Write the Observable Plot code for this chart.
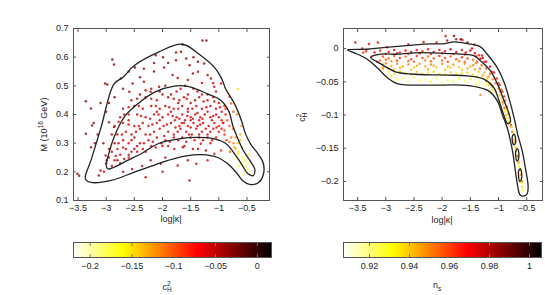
<!DOCTYPE html>
<html><head><meta charset="utf-8">
<script src="https://cdn.jsdelivr.net/npm/d3@7"></script>
<script src="https://cdn.jsdelivr.net/npm/@observablehq/plot@0.6"></script>
<style>
body{margin:0;background:#fff;}
#root{position:relative;width:545px;height:295px;overflow:hidden;font-family:"Liberation Sans",Arial,sans-serif;color:#222;}
#root svg{position:absolute;overflow:visible;}
.lbl{position:absolute;font-size:9px;white-space:nowrap;line-height:1;}
.stk{display:inline-block;vertical-align:middle;font-size:6.5px;line-height:0.95;text-align:left;}
.stk span{display:block;}
</style></head><body><div id="root"></div>
<script>
// ---------- data ----------
const leftXTicks = [-3.5, -3, -2.5, -2, -1.5, -1, -0.5];
const leftYTicks = [0.1, 0.2, 0.3, 0.4, 0.5, 0.6, 0.7];
const rightXTicks = [-3.5, -3, -2.5, -2, -1.5, -1, -0.5];
const rightYTicks = [0, -0.05, -0.1, -0.15, -0.2];
const cHTicks = [-0.2, -0.15, -0.1, -0.05, 0];
const nsTicks = [0.92, 0.94, 0.96, 0.98, 1];
const cHRange = [-0.22, 0.017];
const nsRange = [0.907, 1.006];
const hotColors = ["#ffffff", "#ffff00", "#ff0000", "#000000"];

// left panel: [log|kappa|, M, c_H^2]
const leftPoints = [
[-1.29,0.658,-0.03],[-1.22,0.658,-0.025],[-1.64,0.644,-0.03],[-1.67,0.619,-0.035],[-1.76,0.616,-0.03],[-1.76,0.589,-0.04],[-1.58,0.595,-0.035],[-1.52,0.572,-0.04],[-1.37,0.584,-0.03],[-1.26,0.578,-0.035],[-1.37,0.549,-0.045],[-1.46,0.543,-0.04],[-1.2,0.538,-0.04],[-1.14,0.526,-0.05],[-0.96,0.508,-0.06],[-1.08,0.497,-0.05],[-0.81,0.462,-0.09],[-0.66,0.49,-0.15],[-0.78,0.438,-0.1],[-1.82,0.538,-0.04],[-1.73,0.527,-0.035],
[-2.89,0.592,-0.025],[-2.86,0.574,-0.03],[-3.02,0.508,-0.03],[-2.98,0.505,-0.035],[-3.36,0.446,-0.03],[-3.27,0.421,-0.035],[-2.49,0.564,-0.03],[-2.33,0.56,-0.035],[-2.15,0.55,-0.03],[-2.12,0.607,-0.03],[-1.99,0.6,-0.035],[-1.97,0.564,-0.04],[-2.74,0.526,-0.035],[-2.53,0.508,-0.04],[-2.59,0.479,-0.045],[-2.33,0.514,-0.04],[-2.21,0.479,-0.045],[-2.06,0.497,-0.04],[-1.9,0.58,-0.03],[-2.4,0.53,-0.035],[-2.7,0.49,-0.04],[-2.85,0.46,-0.035],[-2.95,0.44,-0.04],[-1.55,0.52,-0.045],[-1.3,0.51,-0.05],[-1.05,0.48,-0.055],
[-2.15,0.58,-0.03],[-2.6,0.55,-0.035],[-1.45,0.6,-0.035],[-1.1,0.51,-0.05],[-3.1,0.44,-0.03],[-3.2,0.3,-0.035],[-2.0,0.2,-0.045],[-1.2,0.24,-0.06],[-1.55,0.24,-0.05],
[-3.36,0.333,-0.03],[-3.25,0.362,-0.035],[-3.22,0.37,-0.04],[-3.27,0.286,-0.04],[-3.51,0.193,-0.03],[-3.48,0.186,-0.035],[-3.10,0.205,-0.045],[-3.13,0.187,-0.04],[-3.04,0.2,-0.05],[-3.01,0.257,-0.05],[-2.99,0.24,-0.045],[-2.95,0.373,-0.04],[-2.86,0.356,-0.045],[-2.9,0.33,-0.05],[-3.05,0.3,-0.04],[-3.15,0.33,-0.035],[-3.0,0.41,-0.035],
[-2.30,0.181,-0.05],[-2.54,0.21,-0.045],[-2.03,0.228,-0.05],[-2.21,0.24,-0.045],[-2.36,0.22,-0.05],[-1.52,0.17,-0.04],[-1.40,0.228,-0.05],[-1.73,0.222,-0.045],[-1.64,0.286,-0.05],[-1.61,0.29,-0.055],[-1.46,0.28,-0.05],[-1.37,0.28,-0.045],[-1.32,0.298,-0.055],[-1.23,0.274,-0.05],[-1.08,0.263,-0.06],[-0.96,0.274,-0.08],[-1.79,0.28,-0.05],[-1.95,0.25,-0.045],[-2.7,0.2,-0.045],[-2.8,0.24,-0.05],[-2.6,0.25,-0.055],[-2.45,0.27,-0.05],[-1.15,0.3,-0.06],[-1.9,0.29,-0.055],
[-0.66,0.263,-0.15],[-0.55,0.24,-0.165],[-0.49,0.21,-0.18],[-0.43,0.193,-0.19],[-0.6,0.23,-0.17],[-0.72,0.286,-0.13],[-0.81,0.304,-0.11],[-0.66,0.3,-0.14],[-0.78,0.32,-0.11],[-0.90,0.344,-0.09],[-0.81,0.36,-0.1],[-0.62,0.33,-0.13],[-0.58,0.286,-0.15],[-0.49,0.26,-0.165],[-0.85,0.38,-0.09],[-0.75,0.35,-0.11],[-0.7,0.28,-0.14],[-0.65,0.27,-0.15],[-0.68,0.25,-0.16],[-0.55,0.2,-0.18],[-0.52,0.22,-0.175],[-0.62,0.31,-0.14],[-0.7,0.32,-0.12],[-0.74,0.3,-0.12],[-0.64,0.22,-0.17],[-0.58,0.25,-0.16],[-0.68,0.4,-0.12],[-0.74,0.41,-0.1],[-0.86,0.31,-0.09],[-0.8,0.27,-0.1],[-0.57,0.19,-0.19],[-0.47,0.23,-0.18],[-0.6,0.36,-0.13],[-0.88,0.42,-0.08],[-0.93,0.37,-0.08],
[-2.2,0.49,-0.045],[-1.95,0.5,-0.04],[-1.75,0.48,-0.05],[-1.6,0.5,-0.035],[-1.45,0.49,-0.045],[-1.3,0.47,-0.05],[-1.1,0.46,-0.055],[-2.4,0.47,-0.04],[-1.85,0.47,-0.045],[-1.55,0.47,-0.05],
[-2.55,0.45,-0.05],[-2.3,0.46,-0.045],[-2.1,0.45,-0.05],[-1.9,0.46,-0.04],[-1.7,0.45,-0.055],[-1.5,0.44,-0.045],[-1.35,0.46,-0.05],[-1.2,0.45,-0.055],[-1.0,0.44,-0.06],[-0.9,0.43,-0.07],[-2.0,0.47,-0.04],[-1.62,0.46,-0.05],
[-2.7,0.42,-0.05],[-2.5,0.43,-0.045],[-2.35,0.42,-0.055],[-2.2,0.43,-0.05],[-2.05,0.42,-0.06],[-1.95,0.43,-0.045],[-1.8,0.42,-0.055],[-1.65,0.43,-0.05],[-1.55,0.42,-0.06],[-1.4,0.43,-0.045],[-1.3,0.42,-0.055],[-1.15,0.43,-0.05],[-1.05,0.42,-0.06],[-0.95,0.41,-0.065],[-2.6,0.4,-0.055],[-1.72,0.44,-0.045],
[-2.75,0.39,-0.05],[-2.6,0.38,-0.06],[-2.45,0.4,-0.05],[-2.3,0.39,-0.055],[-2.15,0.4,-0.06],[-2.0,0.39,-0.05],[-1.9,0.4,-0.065],[-1.75,0.39,-0.055],[-1.65,0.4,-0.06],[-1.6,0.38,-0.05],[-1.5,0.39,-0.065],[-1.42,0.4,-0.055],[-1.33,0.39,-0.06],[-1.25,0.4,-0.05],[-1.15,0.39,-0.065],[-1.05,0.4,-0.06],[-0.95,0.38,-0.07],[-0.88,0.4,-0.075],[-2.1,0.41,-0.05],[-1.85,0.41,-0.055],[-1.55,0.41,-0.05],[-1.2,0.41,-0.06],
[-2.85,0.36,-0.05],[-2.7,0.37,-0.055],[-2.5,0.36,-0.06],[-2.35,0.37,-0.05],[-2.25,0.36,-0.065],[-2.1,0.37,-0.055],[-1.98,0.36,-0.06],[-1.85,0.37,-0.05],[-1.7,0.36,-0.065],[-1.62,0.37,-0.055],[-1.55,0.36,-0.06],[-1.45,0.37,-0.05],[-1.38,0.36,-0.065],[-1.28,0.37,-0.06],[-1.18,0.36,-0.055],[-1.08,0.37,-0.065],[-1.0,0.36,-0.07],[-0.92,0.37,-0.075],[-2.05,0.38,-0.05],[-1.78,0.38,-0.06],[-1.5,0.38,-0.055],[-1.35,0.38,-0.06],[-1.12,0.38,-0.06],
[-2.8,0.33,-0.055],[-2.65,0.34,-0.05],[-2.55,0.33,-0.06],[-2.4,0.35,-0.055],[-2.3,0.33,-0.06],[-2.15,0.34,-0.05],[-2.05,0.35,-0.065],[-1.9,0.34,-0.055],[-1.8,0.33,-0.06],[-1.68,0.35,-0.05],[-1.58,0.34,-0.06],[-1.48,0.33,-0.055],[-1.4,0.35,-0.065],[-1.3,0.34,-0.06],[-1.2,0.33,-0.055],[-1.1,0.35,-0.065],[-1.0,0.34,-0.07],[-0.9,0.33,-0.08],
[-2.85,0.3,-0.05],[-2.7,0.31,-0.055],[-2.6,0.3,-0.06],[-2.5,0.32,-0.05],[-2.4,0.3,-0.055],[-2.25,0.31,-0.06],[-2.1,0.32,-0.05],[-1.95,0.31,-0.055],[-1.8,0.32,-0.06],[-1.65,0.32,-0.055],[-1.5,0.32,-0.05],[-1.35,0.32,-0.06],[-1.2,0.32,-0.055],[-1.05,0.32,-0.065],
[-2.9,0.27,-0.05],[-2.8,0.28,-0.055],[-2.75,0.26,-0.05],[-2.65,0.28,-0.06],[-2.55,0.27,-0.055],[-2.45,0.29,-0.05],[-2.35,0.28,-0.06],[-2.2,0.29,-0.055],[-2.0,0.29,-0.05],[-2.85,0.24,-0.055],[-2.75,0.23,-0.05],
[-2.9,0.22,-0.05],[-2.95,0.25,-0.045],[-3.0,0.23,-0.05],
[-2.3,0.485,-0.05],[-2.05,0.48,-0.045],[-1.68,0.49,-0.05],[-1.38,0.48,-0.055],[-1.2,0.47,-0.05],
[-2.45,0.455,-0.05],[-2.2,0.455,-0.055],[-1.8,0.455,-0.05],[-1.57,0.455,-0.06],[-1.42,0.45,-0.05],[-1.27,0.445,-0.06],[-1.08,0.445,-0.06],
[-2.6,0.425,-0.055],[-2.42,0.43,-0.05],[-2.12,0.43,-0.06],[-1.88,0.425,-0.05],[-1.72,0.42,-0.06],[-1.47,0.42,-0.055],[-1.22,0.425,-0.06],[-0.98,0.425,-0.065],
[-2.68,0.4,-0.055],[-2.38,0.395,-0.06],[-2.22,0.385,-0.05],[-2.07,0.4,-0.06],[-1.82,0.395,-0.055],[-1.7,0.385,-0.06],[-1.56,0.395,-0.055],[-1.46,0.385,-0.06],[-1.38,0.405,-0.05],[-1.29,0.385,-0.06],[-1.1,0.395,-0.065],[-1.0,0.39,-0.07],
[-2.78,0.375,-0.05],[-2.6,0.365,-0.055],[-2.42,0.36,-0.06],[-2.18,0.365,-0.055],[-1.92,0.365,-0.06],[-1.77,0.355,-0.055],[-1.66,0.37,-0.06],[-1.5,0.355,-0.055],[-1.33,0.365,-0.065],[-1.23,0.35,-0.06],[-1.04,0.355,-0.065],
[-2.72,0.33,-0.055],[-2.47,0.34,-0.06],[-2.22,0.33,-0.055],[-1.97,0.325,-0.06],[-1.73,0.34,-0.055],[-1.53,0.33,-0.06],[-1.35,0.33,-0.055],[-1.15,0.34,-0.06],[-0.95,0.35,-0.075],
[-2.78,0.3,-0.055],[-2.55,0.31,-0.06],[-2.33,0.3,-0.055],[-2.17,0.305,-0.06],[-2.02,0.3,-0.055],[-1.87,0.305,-0.06],[-1.72,0.31,-0.055],[-1.58,0.305,-0.05],[-1.43,0.31,-0.06],[-1.28,0.31,-0.055],[-1.12,0.31,-0.06],
[-2.95,0.28,-0.05],[-2.7,0.285,-0.055],[-2.5,0.28,-0.05],[-2.3,0.27,-0.06],[-2.12,0.285,-0.055],[-2.6,0.26,-0.05],[-2.83,0.255,-0.055],[-2.68,0.245,-0.05]
];

// right panel: [log|kappa|, c_H^2, n_s]
const rightPoints = [
[-3.54,0.009,0.975],[-3.3,0.007,0.97],[-3.14,0.009,0.975],[-2.98,0.002,0.97],[-2.33,0.01,0.975],[-1.91,0.012,0.98],[-1.94,0.019,0.975],[-1.79,0.019,0.985],[-1.75,0.014,0.98],[-1.64,0.013,0.975],[-1.67,0.014,0.995],[-1.43,0.006,0.98],[-2.6,0.006,0.975],[-2.1,0.009,0.97],[-1.55,0.009,0.985],[-1.47,0.0,0.975],[-1.32,-0.0155,0.98],[-1.29,-0.0105,0.975],
[-3.42,0.0,0.97],[-3.35,-0.004,0.965],[-3.2,-0.006,0.97],[-3.1,-0.003,0.965],[-2.95,-0.005,0.97],[-2.85,-0.002,0.975],[-2.75,-0.006,0.965],[-2.65,-0.003,0.97],[-2.55,-0.005,0.975],[-2.45,-0.002,0.97],[-2.35,-0.004,0.965],[-2.25,-0.001,0.97],[-2.15,-0.005,0.975],[-2.05,-0.002,0.97],[-1.95,-0.004,0.975],[-1.85,-0.001,0.98],[-1.75,-0.005,0.975],[-1.65,-0.002,0.97],[-1.58,-0.006,0.975],[-1.5,-0.003,0.98],[-1.42,-0.007,0.975],[-1.35,-0.01,0.97],[-1.28,-0.014,0.975],[-1.22,-0.02,0.97],[-1.15,-0.027,0.975],[-1.08,-0.036,0.97],[-1.03,-0.045,0.965],[-0.98,-0.055,0.97],[-0.93,-0.065,0.965],[-0.88,-0.078,0.96],
[-3.25,-0.012,0.96],[-3.15,-0.02,0.955],[-3.05,-0.03,0.95],[-3.4,-0.006,0.965],
[-3.05,-0.012,0.96],[-2.95,-0.015,0.955],[-2.85,-0.011,0.96],[-2.75,-0.014,0.965],[-2.65,-0.012,0.955],[-2.55,-0.016,0.96],[-2.45,-0.011,0.965],[-2.35,-0.014,0.96],[-2.25,-0.012,0.955],[-2.15,-0.015,0.96],[-2.05,-0.011,0.965],[-1.95,-0.014,0.96],[-1.85,-0.012,0.955],[-1.75,-0.016,0.96],[-1.65,-0.013,0.965],[-1.55,-0.015,0.96],[-1.45,-0.017,0.955],[-1.38,-0.02,0.96],[-1.3,-0.025,0.955],[-1.22,-0.03,0.96],[-1.15,-0.038,0.955],[-1.1,-0.046,0.95],[-3.1,-0.018,0.955],[-2.9,-0.019,0.95],[-2.6,-0.019,0.955],[-2.3,-0.018,0.95],[-2.0,-0.018,0.955],[-1.7,-0.019,0.95],[-1.4,-0.022,0.95],
[-3.0,-0.022,0.95],[-2.9,-0.026,0.945],[-2.8,-0.023,0.95],[-2.7,-0.027,0.945],[-2.6,-0.024,0.95],[-2.5,-0.028,0.94],[-2.4,-0.023,0.95],[-2.3,-0.027,0.945],[-2.2,-0.024,0.95],[-2.1,-0.028,0.94],[-2.0,-0.023,0.95],[-1.9,-0.027,0.945],[-1.8,-0.024,0.95],[-1.7,-0.028,0.94],[-1.6,-0.023,0.95],[-1.5,-0.027,0.945],[-1.42,-0.031,0.945],[-1.35,-0.035,0.94],[-1.28,-0.04,0.945],[-1.2,-0.045,0.94],[-1.15,-0.052,0.945],[-3.05,-0.028,0.945],[-2.85,-0.031,0.94],[-2.55,-0.032,0.94],[-2.25,-0.031,0.945],[-1.95,-0.032,0.94],[-1.65,-0.032,0.94],
[-2.95,-0.035,0.935],[-2.75,-0.034,0.94],[-2.65,-0.037,0.935],[-2.45,-0.035,0.94],[-2.35,-0.038,0.935],[-2.15,-0.035,0.94],[-2.05,-0.038,0.935],[-1.85,-0.036,0.94],[-1.75,-0.038,0.935],[-1.55,-0.036,0.94],[-1.45,-0.039,0.935],[-1.3,-0.044,0.935],[-1.22,-0.05,0.935],[-1.12,-0.058,0.94],[-1.05,-0.065,0.935],
[-2.9,-0.042,0.93],[-2.7,-0.045,0.925],[-2.5,-0.043,0.93],[-2.3,-0.047,0.925],[-2.1,-0.044,0.93],[-1.9,-0.048,0.925],[-1.7,-0.045,0.93],[-1.5,-0.046,0.93],[-1.35,-0.05,0.925],[-1.25,-0.055,0.93],[-1.15,-0.066,0.93],[-1.4,-0.054,0.93],[-2.0,-0.052,0.925],[-2.6,-0.05,0.925],[-1.32,-0.07,0.95],
[-1.0,-0.06,0.95],[-0.98,-0.07,0.94],[-0.95,-0.075,0.935],[-0.93,-0.08,0.95],[-0.9,-0.088,0.94],[-0.88,-0.095,0.935],[-0.86,-0.1,0.945],[-0.84,-0.105,0.935],[-0.82,-0.098,0.96],[-0.85,-0.088,0.965],[-0.83,-0.11,0.93],[-1.05,-0.052,0.955],[-0.95,-0.062,0.96],[-0.9,-0.072,0.965],
[-0.84,-0.1,0.935],[-0.8,-0.11,0.93],[-0.77,-0.118,0.94],[-0.75,-0.124,0.935],[-0.73,-0.13,0.93],[-0.72,-0.137,0.94],[-0.71,-0.143,0.935],[-0.7,-0.148,0.93],[-0.68,-0.154,0.94],[-0.67,-0.16,0.935],[-0.66,-0.166,0.93],[-0.645,-0.172,0.94],[-0.63,-0.178,0.935],[-0.62,-0.184,0.93],[-0.61,-0.19,0.94],[-0.6,-0.196,0.935],[-0.59,-0.202,0.93],[-0.58,-0.208,0.935],[-0.57,-0.213,0.93],[-0.78,-0.115,0.96],[-0.7,-0.14,0.955],[-0.66,-0.162,0.96],[-0.62,-0.182,0.955],
[-3.0,-0.008,0.965],[-2.8,-0.007,0.97],[-2.6,-0.008,0.965],[-2.4,-0.007,0.97],[-2.2,-0.008,0.965],[-2.0,-0.007,0.97],[-1.8,-0.008,0.965],[-1.6,-0.009,0.97],[-1.4,-0.012,0.965],[-1.25,-0.02,0.97],[-1.12,-0.035,0.965],[-1.0,-0.052,0.965],
[-3.0,-0.017,0.955],[-2.8,-0.018,0.96],[-2.5,-0.02,0.955],[-2.2,-0.019,0.955],[-1.9,-0.02,0.96],[-1.6,-0.02,0.955],[-1.33,-0.03,0.955],[-1.18,-0.042,0.95],
[-3.05,-0.024,0.95],[-2.95,-0.03,0.945],[-2.75,-0.029,0.945],[-2.45,-0.026,0.945],[-2.15,-0.026,0.945],[-1.85,-0.029,0.94],[-1.55,-0.03,0.945],[-1.45,-0.025,0.95],[-1.25,-0.036,0.945],
[-2.85,-0.038,0.935],[-2.55,-0.039,0.935],[-2.25,-0.036,0.935],[-1.95,-0.039,0.935],[-1.65,-0.037,0.935],[-1.38,-0.042,0.935],[-1.1,-0.062,0.935],[-1.17,-0.055,0.94],
[-2.8,-0.047,0.93],[-2.4,-0.048,0.925],[-1.8,-0.05,0.93],[-1.6,-0.049,0.925],[-2.2,-0.05,0.93],
[-0.97,-0.065,0.955],[-0.92,-0.083,0.945],[-0.89,-0.09,0.955],[-0.87,-0.092,0.93],[-0.81,-0.112,0.94],[-0.76,-0.125,0.95],[-0.69,-0.15,0.945],[-0.65,-0.17,0.95],[-0.6,-0.19,0.945],[-0.58,-0.2,0.95]
];

// contour outlines [x, y]
const leftOuter = [[-3.37,0.184],[-3.27,0.24],[-3.09,0.356],[-2.86,0.507],[-2.7,0.53],[-2.5,0.571],[-2.08,0.617],[-1.65,0.645],[-1.32,0.606],[-1.08,0.565],[-0.95,0.525],[-0.88,0.49],[-0.72,0.437],[-0.6,0.38],[-0.53,0.335],[-0.43,0.295],[-0.3,0.262],[-0.21,0.23],[-0.21,0.19],[-0.3,0.162],[-0.45,0.156],[-0.58,0.17],[-0.68,0.195],[-0.84,0.228],[-1.02,0.25],[-1.3,0.26],[-1.6,0.255],[-1.9,0.24],[-2.2,0.22],[-2.5,0.199],[-2.91,0.17],[-3.27,0.163],[-3.36,0.172]];
const leftInner = [[-3.0,0.222],[-2.97,0.251],[-2.86,0.321],[-2.68,0.391],[-2.44,0.437],[-2.14,0.478],[-1.79,0.499],[-1.55,0.498],[-1.2,0.472],[-0.96,0.449],[-0.82,0.41],[-0.75,0.36],[-0.67,0.32],[-0.57,0.276],[-0.45,0.24],[-0.36,0.208],[-0.39,0.187],[-0.48,0.193],[-0.6,0.228],[-0.72,0.263],[-0.87,0.298],[-1.08,0.315],[-1.4,0.32],[-1.7,0.315],[-2.08,0.298],[-2.38,0.263],[-2.62,0.24],[-2.86,0.216],[-2.97,0.21]];
const rightOuter = [[-3.68,-0.002],[-3.33,-0.001],[-3.09,0.001],[-2.68,0.004],[-2.32,0.0066],[-1.95,0.0075],[-1.79,0.01],[-1.55,0.0075],[-1.32,0.0026],[-1.2,-0.0085],[-1.02,-0.029],[-0.9,-0.051],[-0.8,-0.079],[-0.725,-0.104],[-0.66,-0.129],[-0.58,-0.154],[-0.525,-0.179],[-0.475,-0.207],[-0.49,-0.218],[-0.55,-0.222],[-0.62,-0.22],[-0.66,-0.207],[-0.70,-0.185],[-0.74,-0.16],[-0.79,-0.138],[-0.85,-0.118],[-0.93,-0.1],[-1.02,-0.079],[-1.17,-0.064],[-1.37,-0.058],[-1.67,-0.055],[-2.2,-0.055],[-2.79,-0.053],[-2.97,-0.044],[-3.15,-0.029],[-3.33,-0.016],[-3.57,-0.006]];
const rightInner = [[-3.27,-0.0135],[-3.09,-0.0085],[-2.79,-0.0085],[-2.38,-0.006],[-1.91,-0.0075],[-1.67,-0.0085],[-1.43,-0.011],[-1.32,-0.0185],[-1.14,-0.034],[-0.99,-0.059],[-0.9,-0.079],[-0.81,-0.099],[-0.79,-0.11],[-0.84,-0.113],[-0.91,-0.099],[-0.99,-0.079],[-1.08,-0.059],[-1.26,-0.046],[-1.55,-0.041],[-1.91,-0.04],[-2.38,-0.039],[-2.79,-0.036],[-3.03,-0.026],[-3.18,-0.0185]];
const rightIsland1 = [[-0.75,-0.131],[-0.72,-0.129],[-0.70,-0.134],[-0.70,-0.142],[-0.73,-0.145],[-0.755,-0.139]];
const rightIsland2 = [[-0.69,-0.153],[-0.66,-0.151],[-0.64,-0.157],[-0.645,-0.166],[-0.675,-0.169],[-0.695,-0.162]];
const rightIsland3 = [[-0.64,-0.183],[-0.61,-0.181],[-0.59,-0.188],[-0.595,-0.197],[-0.625,-0.2],[-0.645,-0.192]];

// ---------- drawing ----------
const root = document.getElementById("root");
const FONT = "'Liberation Sans', Arial, sans-serif";
const fmt = d => (d < 0 ? "\u2212" : "") + String(Math.abs(d));
function hotScale(dom) {
  const s = dom[1] - dom[0];
  return {type: "linear", domain: [dom[0], dom[0] + 0.25 * s, dom[0] + 0.625 * s, dom[1]], range: hotColors, interpolate: "rgb", clamp: true};
}
function place(svg, left, top) {
  svg.style.left = left + "px";
  svg.style.top = top + "px";
  root.appendChild(svg);
}
const blank = () => "";
function panel({width, mr, xDomain, yDomain, xTicks, yTicks, points, cDom, contours}) {
  return Plot.plot({
    width, height: 240, marginLeft: 73, marginRight: mr, marginTop: 28, marginBottom: 40,
    x: {domain: xDomain}, y: {domain: yDomain},
    color: hotScale(cDom),
    style: {fontFamily: FONT, fontSize: "9px", color: "#222", background: "transparent", overflow: "visible"},
    marks: [
      Plot.dot(points, {x: d => d[0], y: d => d[1], fill: d => d[2], r: 1.25, fillOpacity: 0.8}),
      ...contours.map(c => Plot.line(c, {x: d => d[0], y: d => d[1], stroke: "#222", strokeWidth: 1.3, curve: "catmull-rom-closed"})),
      Plot.frame({stroke: "#555"}),
      Plot.axisX({ticks: xTicks, tickSize: -3, tickPadding: 7, tickFormat: fmt, label: null, stroke: "#555"}),
      Plot.axisX({anchor: "top", ticks: xTicks, tickSize: -3, tickFormat: blank, label: null, stroke: "#555"}),
      Plot.axisY({ticks: yTicks, tickSize: -3, tickPadding: 8, tickFormat: fmt, label: null, stroke: "#555"}),
      Plot.axisY({anchor: "right", ticks: yTicks, tickSize: -3, tickFormat: blank, label: null, stroke: "#555"})
    ]
  });
}
function colorbar({width, mr, dom, ticks}) {
  return Plot.plot({
    width, height: 42, marginLeft: 73, marginRight: mr, marginTop: 12, marginBottom: 15,
    x: {domain: dom}, y: {domain: [0, 1], axis: null},
    color: hotScale(dom),
    style: {fontFamily: FONT, fontSize: "9px", color: "#222", background: "transparent", overflow: "visible"},
    marks: [
      Plot.raster({x1: dom[0], x2: dom[1], y1: 0, y2: 1, width: 300, height: 1, fill: (x, y) => x, imageRendering: "auto"}),
      Plot.frame({stroke: "#555"}),
      Plot.axisX({ticks, tickSize: -3, tickPadding: 8, tickFormat: fmt, label: null, stroke: "#777"}),
      Plot.axisX({anchor: "top", ticks, tickSize: -3, tickFormat: blank, label: null, stroke: "#777"})
    ]
  });
}

place(panel({width: 290, mr: 21, xDomain: [-3.58, -0.1], yDomain: [0.1, 0.7], xTicks: leftXTicks, yTicks: leftYTicks,
  points: leftPoints, cDom: cHRange, contours: [leftOuter, leftInner]}), 0, 0);
place(panel({width: 275, mr: 3, xDomain: [-3.75, -0.22], yDomain: [-0.2286, 0.0302], xTicks: rightXTicks, yTicks: rightYTicks,
  points: rightPoints, cDom: nsRange, contours: [rightOuter, rightInner, rightIsland1, rightIsland2, rightIsland3]}), 270, 0);
place(colorbar({width: 290, mr: 19, dom: cHRange, ticks: cHTicks}), 0, 230);
place(colorbar({width: 275, mr: 4, dom: nsRange, ticks: nsTicks}), 270, 230);

function label(html, cx, cy, rot) {
  const d = document.createElement("div");
  d.className = "lbl";
  d.innerHTML = html;
  root.appendChild(d);
  const w = d.offsetWidth, h = d.offsetHeight;
  d.style.left = (cx - w / 2) + "px";
  d.style.top = (cy - h / 2) + "px";
  if (rot) d.style.transform = "rotate(" + rot + "deg)";
}
label("log|κ|", 171, 219);
label("log|κ|", 442, 220);
label("M (10<sup style='font-size:6.5px'>16</sup> GeV)", 44, 124, -90);
label("c<span class='stk'><span>2</span><span>H</span></span>", 302, 117, -90);
label("c<span class='stk'><span>2</span><span>H</span></span>", 167, 287);
label("n<sub style='font-size:6.5px'>s</sub>", 437, 286);
</script></body></html>
